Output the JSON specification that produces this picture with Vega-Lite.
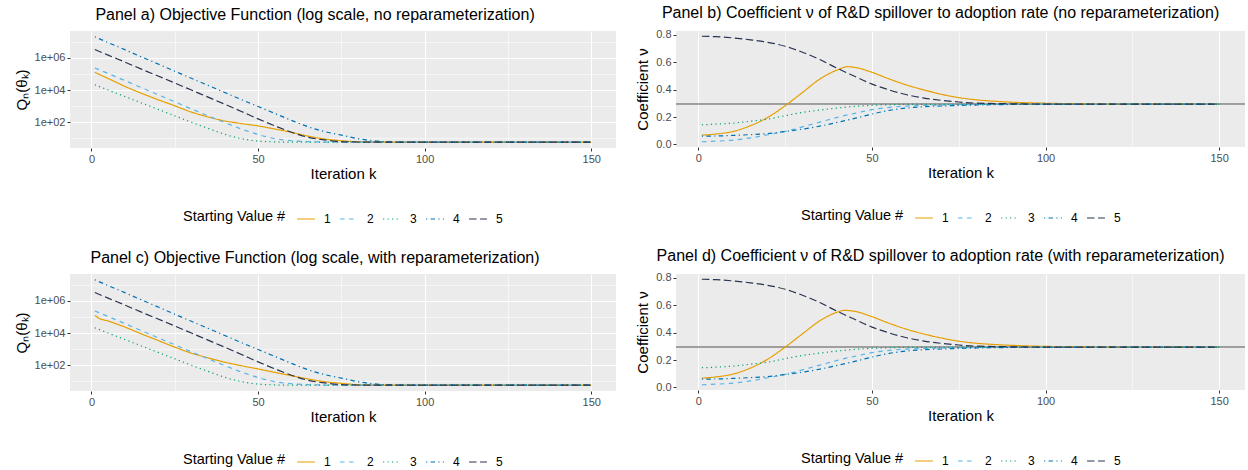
{
  "$schema": "https://vega.github.io/schema/vega-lite/v6.json",
  "background": "white",
  "padding": {"left": 14, "top": 4, "right": 2, "bottom": 0},
  "datasets": {
    "obj": [
      {"p":"a","s":"1","k":1,"q":126000},{"p":"a","s":"1","k":5,"q":52500},{"p":"a","s":"1","k":10,"q":17000},{"p":"a","s":"1","k":15,"q":6310},{"p":"a","s":"1","k":20,"q":2510},{"p":"a","s":"1","k":25,"q":1050},{"p":"a","s":"1","k":30,"q":427},{"p":"a","s":"1","k":35,"q":214},{"p":"a","s":"1","k":40,"q":120},{"p":"a","s":"1","k":45,"q":83.2},{"p":"a","s":"1","k":50,"q":58.9},{"p":"a","s":"1","k":55,"q":38},{"p":"a","s":"1","k":60,"q":23.7},{"p":"a","s":"1","k":65,"q":13.8},{"p":"a","s":"1","k":70,"q":9.12},{"p":"a","s":"1","k":75,"q":7.08},{"p":"a","s":"1","k":80,"q":6.17},{"p":"a","s":"1","k":85,"q":5.89},{"p":"a","s":"1","k":90,"q":5.75},{"p":"a","s":"1","k":100,"q":5.75},{"p":"a","s":"1","k":125,"q":5.75},{"p":"a","s":"1","k":150,"q":5.75},
      {"p":"c","s":"1","k":1,"q":126000},{"p":"c","s":"1","k":2,"q":89100},{"p":"c","s":"1","k":5,"q":56200},{"p":"c","s":"1","k":10,"q":23700},{"p":"c","s":"1","k":15,"q":8910},{"p":"c","s":"1","k":20,"q":3470},{"p":"c","s":"1","k":25,"q":1330},{"p":"c","s":"1","k":30,"q":562},{"p":"c","s":"1","k":35,"q":288},{"p":"c","s":"1","k":40,"q":155},{"p":"c","s":"1","k":45,"q":93.3},{"p":"c","s":"1","k":50,"q":58.9},{"p":"c","s":"1","k":55,"q":36.3},{"p":"c","s":"1","k":60,"q":22.4},{"p":"c","s":"1","k":65,"q":14.1},{"p":"c","s":"1","k":70,"q":9.55},{"p":"c","s":"1","k":75,"q":7.5},{"p":"c","s":"1","k":80,"q":6.17},{"p":"c","s":"1","k":85,"q":5.89},{"p":"c","s":"1","k":90,"q":5.75},{"p":"c","s":"1","k":100,"q":5.75},{"p":"c","s":"1","k":125,"q":5.75},{"p":"c","s":"1","k":150,"q":5.75},
      {"p":"ac","s":"2","k":1,"q":237000},{"p":"ac","s":"2","k":5,"q":107000},{"p":"ac","s":"2","k":10,"q":38900},{"p":"ac","s":"2","k":15,"q":14100},{"p":"ac","s":"2","k":20,"q":5130},{"p":"ac","s":"2","k":25,"q":1860},{"p":"ac","s":"2","k":30,"q":676},{"p":"ac","s":"2","k":35,"q":251},{"p":"ac","s":"2","k":40,"q":95.5},{"p":"ac","s":"2","k":45,"q":38},{"p":"ac","s":"2","k":50,"q":17.4},{"p":"ac","s":"2","k":55,"q":9.55},{"p":"ac","s":"2","k":60,"q":7.08},{"p":"ac","s":"2","k":65,"q":6.17},{"p":"ac","s":"2","k":70,"q":5.89},{"p":"ac","s":"2","k":75,"q":5.75},{"p":"ac","s":"2","k":100,"q":5.75},{"p":"ac","s":"2","k":125,"q":5.75},{"p":"ac","s":"2","k":150,"q":5.75},
      {"p":"ac","s":"3","k":1,"q":21400},{"p":"ac","s":"3","k":5,"q":10000},{"p":"ac","s":"3","k":10,"q":3980},{"p":"ac","s":"3","k":15,"q":1580},{"p":"ac","s":"3","k":20,"q":631},{"p":"ac","s":"3","k":25,"q":251},{"p":"ac","s":"3","k":30,"q":100},{"p":"ac","s":"3","k":35,"q":41.7},{"p":"ac","s":"3","k":40,"q":17.8},{"p":"ac","s":"3","k":45,"q":9.55},{"p":"ac","s":"3","k":50,"q":6.76},{"p":"ac","s":"3","k":55,"q":6.03},{"p":"ac","s":"3","k":60,"q":5.75},{"p":"ac","s":"3","k":100,"q":5.75},{"p":"ac","s":"3","k":125,"q":5.75},{"p":"ac","s":"3","k":150,"q":5.75},
      {"p":"ac","s":"4","k":1,"q":20400000},{"p":"ac","s":"4","k":5,"q":8910000},{"p":"ac","s":"4","k":10,"q":3240000},{"p":"ac","s":"4","k":15,"q":1150000},{"p":"ac","s":"4","k":20,"q":417000},{"p":"ac","s":"4","k":25,"q":148000},{"p":"ac","s":"4","k":30,"q":53700},{"p":"ac","s":"4","k":35,"q":19500},{"p":"ac","s":"4","k":40,"q":7080},{"p":"ac","s":"4","k":45,"q":2570},{"p":"ac","s":"4","k":50,"q":955},{"p":"ac","s":"4","k":55,"q":355},{"p":"ac","s":"4","k":60,"q":132},{"p":"ac","s":"4","k":65,"q":52.5},{"p":"ac","s":"4","k":70,"q":26.3},{"p":"ac","s":"4","k":75,"q":15.8},{"p":"ac","s":"4","k":80,"q":9.55},{"p":"ac","s":"4","k":85,"q":6.92},{"p":"ac","s":"4","k":90,"q":6.03},{"p":"ac","s":"4","k":95,"q":5.75},{"p":"ac","s":"4","k":100,"q":5.75},{"p":"ac","s":"4","k":125,"q":5.75},{"p":"ac","s":"4","k":150,"q":5.75},
      {"p":"ac","s":"5","k":1,"q":3310000},{"p":"ac","s":"5","k":5,"q":1480000},{"p":"ac","s":"5","k":10,"q":550000},{"p":"ac","s":"5","k":15,"q":200000},{"p":"ac","s":"5","k":20,"q":74100},{"p":"ac","s":"5","k":25,"q":27500},{"p":"ac","s":"5","k":30,"q":10000},{"p":"ac","s":"5","k":35,"q":3630},{"p":"ac","s":"5","k":40,"q":1320},{"p":"ac","s":"5","k":45,"q":468},{"p":"ac","s":"5","k":50,"q":162},{"p":"ac","s":"5","k":55,"q":60.3},{"p":"ac","s":"5","k":60,"q":24},{"p":"ac","s":"5","k":65,"q":11.7},{"p":"ac","s":"5","k":70,"q":7.94},{"p":"ac","s":"5","k":75,"q":6.31},{"p":"ac","s":"5","k":80,"q":5.89},{"p":"ac","s":"5","k":85,"q":5.75},{"p":"ac","s":"5","k":100,"q":5.75},{"p":"ac","s":"5","k":125,"q":5.75},{"p":"ac","s":"5","k":150,"q":5.75}
    ],
    "coef": [
      {"p":"b","s":"1","k":1,"v":0.068},{"p":"b","s":"1","k":5,"v":0.076},{"p":"b","s":"1","k":10,"v":0.095},{"p":"b","s":"1","k":15,"v":0.137},{"p":"b","s":"1","k":20,"v":0.198},{"p":"b","s":"1","k":25,"v":0.283},{"p":"b","s":"1","k":30,"v":0.38},{"p":"b","s":"1","k":35,"v":0.478},{"p":"b","s":"1","k":40,"v":0.544},{"p":"b","s":"1","k":43,"v":0.568},{"p":"b","s":"1","k":45,"v":0.563},{"p":"b","s":"1","k":50,"v":0.527},{"p":"b","s":"1","k":55,"v":0.478},{"p":"b","s":"1","k":60,"v":0.434},{"p":"b","s":"1","k":65,"v":0.398},{"p":"b","s":"1","k":70,"v":0.366},{"p":"b","s":"1","k":75,"v":0.342},{"p":"b","s":"1","k":80,"v":0.326},{"p":"b","s":"1","k":85,"v":0.316},{"p":"b","s":"1","k":90,"v":0.309},{"p":"b","s":"1","k":95,"v":0.304},{"p":"b","s":"1","k":100,"v":0.301},{"p":"b","s":"1","k":110,"v":0.297},{"p":"b","s":"1","k":120,"v":0.295},{"p":"b","s":"1","k":150,"v":0.294},
      {"p":"d","s":"1","k":1,"v":0.068},{"p":"d","s":"1","k":5,"v":0.077},{"p":"d","s":"1","k":10,"v":0.098},{"p":"d","s":"1","k":15,"v":0.142},{"p":"d","s":"1","k":20,"v":0.207},{"p":"d","s":"1","k":25,"v":0.295},{"p":"d","s":"1","k":30,"v":0.392},{"p":"d","s":"1","k":35,"v":0.487},{"p":"d","s":"1","k":40,"v":0.55},{"p":"d","s":"1","k":42,"v":0.563},{"p":"d","s":"1","k":45,"v":0.556},{"p":"d","s":"1","k":50,"v":0.517},{"p":"d","s":"1","k":55,"v":0.468},{"p":"d","s":"1","k":60,"v":0.425},{"p":"d","s":"1","k":65,"v":0.39},{"p":"d","s":"1","k":70,"v":0.361},{"p":"d","s":"1","k":75,"v":0.338},{"p":"d","s":"1","k":80,"v":0.323},{"p":"d","s":"1","k":85,"v":0.314},{"p":"d","s":"1","k":90,"v":0.308},{"p":"d","s":"1","k":95,"v":0.303},{"p":"d","s":"1","k":100,"v":0.3},{"p":"d","s":"1","k":110,"v":0.297},{"p":"d","s":"1","k":120,"v":0.295},{"p":"d","s":"1","k":150,"v":0.294},
      {"p":"bd","s":"2","k":1,"v":0.02},{"p":"bd","s":"2","k":5,"v":0.024},{"p":"bd","s":"2","k":10,"v":0.032},{"p":"bd","s":"2","k":15,"v":0.048},{"p":"bd","s":"2","k":20,"v":0.071},{"p":"bd","s":"2","k":25,"v":0.095},{"p":"bd","s":"2","k":30,"v":0.129},{"p":"bd","s":"2","k":35,"v":0.163},{"p":"bd","s":"2","k":40,"v":0.198},{"p":"bd","s":"2","k":45,"v":0.227},{"p":"bd","s":"2","k":50,"v":0.254},{"p":"bd","s":"2","k":55,"v":0.271},{"p":"bd","s":"2","k":60,"v":0.28},{"p":"bd","s":"2","k":65,"v":0.285},{"p":"bd","s":"2","k":70,"v":0.288},{"p":"bd","s":"2","k":80,"v":0.292},{"p":"bd","s":"2","k":90,"v":0.294},{"p":"bd","s":"2","k":150,"v":0.294},
      {"p":"bd","s":"3","k":1,"v":0.144},{"p":"bd","s":"3","k":5,"v":0.148},{"p":"bd","s":"3","k":10,"v":0.156},{"p":"bd","s":"3","k":15,"v":0.17},{"p":"bd","s":"3","k":20,"v":0.185},{"p":"bd","s":"3","k":25,"v":0.21},{"p":"bd","s":"3","k":30,"v":0.234},{"p":"bd","s":"3","k":35,"v":0.251},{"p":"bd","s":"3","k":40,"v":0.266},{"p":"bd","s":"3","k":45,"v":0.278},{"p":"bd","s":"3","k":50,"v":0.286},{"p":"bd","s":"3","k":55,"v":0.29},{"p":"bd","s":"3","k":60,"v":0.293},{"p":"bd","s":"3","k":150,"v":0.294},
      {"p":"bd","s":"4","k":1,"v":0.061},{"p":"bd","s":"4","k":5,"v":0.062},{"p":"bd","s":"4","k":10,"v":0.066},{"p":"bd","s":"4","k":15,"v":0.072},{"p":"bd","s":"4","k":20,"v":0.08},{"p":"bd","s":"4","k":25,"v":0.095},{"p":"bd","s":"4","k":30,"v":0.112},{"p":"bd","s":"4","k":35,"v":0.134},{"p":"bd","s":"4","k":40,"v":0.161},{"p":"bd","s":"4","k":45,"v":0.19},{"p":"bd","s":"4","k":50,"v":0.222},{"p":"bd","s":"4","k":55,"v":0.249},{"p":"bd","s":"4","k":60,"v":0.266},{"p":"bd","s":"4","k":65,"v":0.276},{"p":"bd","s":"4","k":70,"v":0.281},{"p":"bd","s":"4","k":80,"v":0.288},{"p":"bd","s":"4","k":90,"v":0.292},{"p":"bd","s":"4","k":100,"v":0.294},{"p":"bd","s":"4","k":150,"v":0.294},
      {"p":"bd","s":"5","k":1,"v":0.79},{"p":"bd","s":"5","k":5,"v":0.787},{"p":"bd","s":"5","k":10,"v":0.778},{"p":"bd","s":"5","k":15,"v":0.764},{"p":"bd","s":"5","k":20,"v":0.746},{"p":"bd","s":"5","k":25,"v":0.717},{"p":"bd","s":"5","k":30,"v":0.673},{"p":"bd","s":"5","k":35,"v":0.62},{"p":"bd","s":"5","k":40,"v":0.556},{"p":"bd","s":"5","k":45,"v":0.498},{"p":"bd","s":"5","k":50,"v":0.441},{"p":"bd","s":"5","k":55,"v":0.398},{"p":"bd","s":"5","k":60,"v":0.363},{"p":"bd","s":"5","k":65,"v":0.339},{"p":"bd","s":"5","k":70,"v":0.322},{"p":"bd","s":"5","k":75,"v":0.31},{"p":"bd","s":"5","k":80,"v":0.302},{"p":"bd","s":"5","k":90,"v":0.297},{"p":"bd","s":"5","k":100,"v":0.295},{"p":"bd","s":"5","k":150,"v":0.294}
    ]
  },
  "config": {
    "font": "Liberation Sans",
    "view": {"fill": "#EBEBEB", "stroke": null},
    "axis": {"domain": false, "gridColor": "#FFFFFF", "tickColor": "#333333", "tickSize": 3, "labelColor": "#4D4D4D", "labelFontSize": 11, "labelPadding": 2, "titleFontSize": 15, "titleFontWeight": "normal", "titleColor": "#000000"},
    "axisX": {"titlePadding": 2},
    "axisY": {"titlePadding": 5},
    "title": {"fontSize": 16, "fontWeight": "normal", "anchor": "middle", "frame": "bounds", "offset": 8, "color": "#000000"},
    "legend": {"orient": "bottom", "direction": "horizontal", "titleOrient": "left", "titleFontSize": 14.5, "titleFontWeight": "normal", "titleColor": "#000000", "labelFontSize": 12, "labelColor": "#000000", "symbolType": "stroke", "symbolSize": 320, "symbolStrokeWidth": 1.3, "columnPadding": 6, "labelOffset": 8, "offset": 28, "titlePadding": 10, "layout": {"bottom": {"anchor": "middle"}}},
    "line": {"strokeWidth": 1.2, "interpolate": "monotone"}
  },
  "spacing": 22,
  "resolve": {"legend": {"color": "independent", "strokeDash": "independent"}},
  "vconcat": [
    {
      "spacing": 19,
      "resolve": {"legend": {"color": "independent", "strokeDash": "independent"}},
      "hconcat": [
        {
          "title": "Panel a) Objective Function (log scale, no reparameterization)",
          "width": 546, "height": 117,
          "data": {"name": "obj"},
          "transform": [{"filter": "datum.p == 'a' || datum.p == 'ac'"}],
          "mark": {"type": "line"},
          "encoding": {
            "x": {"field": "k", "type": "quantitative", "title": "Iteration k", "scale": {"domain": [-6.45, 157.45], "nice": false, "zero": false}, "axis": {"values": [0, 25, 50, 75, 100, 125, 150], "labelOverlap": false, "labelExpr": "datum.value % 50 === 0 ? datum.label : ''", "gridWidth": {"condition": {"test": "datum.value % 50 === 0", "value": 1.1}, "value": 0.55}, "tickSize": {"condition": {"test": "datum.value % 50 === 0", "value": 3}, "value": 0}}},
            "y": {"field": "q", "type": "quantitative", "title": "Qₙ(θₖ)", "scale": {"type": "log", "domain": [2.51, 46800000], "nice": false}, "axis": {"values": [10, 100, 1000, 10000, 100000, 1000000, 10000000], "labelOverlap": false, "labelExpr": "datum.value == 100 ? '1e+02' : datum.value == 10000 ? '1e+04' : datum.value == 1000000 ? '1e+06' : ''", "gridWidth": {"condition": {"test": "datum.value == 100 || datum.value == 10000 || datum.value == 1000000", "value": 1.1}, "value": 0.55}, "tickSize": {"condition": {"test": "datum.value == 100 || datum.value == 10000 || datum.value == 1000000", "value": 3}, "value": 0}}},
            "color": {"field": "s", "type": "nominal", "title": "Starting Value #", "scale": {"domain": ["1", "2", "3", "4", "5"], "range": ["#E69F00", "#56B4E9", "#009E73", "#0072B2", "#283350"]}},
            "strokeDash": {"field": "s", "type": "nominal", "title": "Starting Value #", "scale": {"domain": ["1", "2", "3", "4", "5"], "range": [[1, 0], [4.5, 4.5], [1.2, 3.3], [1.2, 3.3, 4.5, 3.3], [7.5, 3.5]]}}
          }
        },
        {
          "title": "Panel b) Coefficient ν of R&D spillover to adoption rate (no reparameterization)",
          "width": 569, "height": 116,
          "data": {"name": "coef"},
          "transform": [{"filter": "datum.p == 'b' || datum.p == 'bd'"}],
          "layer": [
            {
              "mark": {"type": "rule", "strokeWidth": 0.8},
              "encoding": {"y": {"datum": 0.293, "type": "quantitative", "title": "Coefficient ν", "scale": {"domain": [-0.0185, 0.8285], "nice": false, "zero": false}, "axis": {"values": [0, 0.1, 0.2, 0.3, 0.4, 0.5, 0.6, 0.7, 0.8], "labelOverlap": false, "labelExpr": "round(datum.value * 10) % 2 == 0 ? format(datum.value, '.1f') : ''", "gridWidth": {"condition": {"test": "round(datum.value * 10) % 2 == 0", "value": 1.1}, "value": 0.55}, "tickSize": {"condition": {"test": "round(datum.value * 10) % 2 == 0", "value": 3}, "value": 0}}}, "color": {"value": "#A0A0A0"}}
            },
            {
              "mark": {"type": "line"},
              "encoding": {
                "x": {"field": "k", "type": "quantitative", "title": "Iteration k", "scale": {"domain": [-6.45, 157.45], "nice": false, "zero": false}, "axis": {"values": [0, 25, 50, 75, 100, 125, 150], "labelOverlap": false, "labelExpr": "datum.value % 50 === 0 ? datum.label : ''", "gridWidth": {"condition": {"test": "datum.value % 50 === 0", "value": 1.1}, "value": 0.55}, "tickSize": {"condition": {"test": "datum.value % 50 === 0", "value": 3}, "value": 0}}},
                "y": {"field": "v", "type": "quantitative", "title": "Coefficient ν", "axis": {"values": [0, 0.1, 0.2, 0.3, 0.4, 0.5, 0.6, 0.7, 0.8], "labelOverlap": false, "labelExpr": "round(datum.value * 10) % 2 == 0 ? format(datum.value, '.1f') : ''", "gridWidth": {"condition": {"test": "round(datum.value * 10) % 2 == 0", "value": 1.1}, "value": 0.55}, "tickSize": {"condition": {"test": "round(datum.value * 10) % 2 == 0", "value": 3}, "value": 0}}},
                "color": {"field": "s", "type": "nominal", "title": "Starting Value #", "scale": {"domain": ["1", "2", "3", "4", "5"], "range": ["#E69F00", "#56B4E9", "#009E73", "#0072B2", "#283350"]}},
                "strokeDash": {"field": "s", "type": "nominal", "title": "Starting Value #", "scale": {"domain": ["1", "2", "3", "4", "5"], "range": [[1, 0], [4.5, 4.5], [1.2, 3.3], [1.2, 3.3, 4.5, 3.3], [7.5, 3.5]]}}
              }
            }
          ]
        }
      ]
    },
    {
      "spacing": 19,
      "resolve": {"legend": {"color": "independent", "strokeDash": "independent"}},
      "hconcat": [
        {
          "title": "Panel c) Objective Function (log scale, with reparameterization)",
          "width": 546, "height": 117,
          "data": {"name": "obj"},
          "transform": [{"filter": "datum.p == 'c' || datum.p == 'ac'"}],
          "mark": {"type": "line"},
          "encoding": {
            "x": {"field": "k", "type": "quantitative", "title": "Iteration k", "scale": {"domain": [-6.45, 157.45], "nice": false, "zero": false}, "axis": {"values": [0, 25, 50, 75, 100, 125, 150], "labelOverlap": false, "labelExpr": "datum.value % 50 === 0 ? datum.label : ''", "gridWidth": {"condition": {"test": "datum.value % 50 === 0", "value": 1.1}, "value": 0.55}, "tickSize": {"condition": {"test": "datum.value % 50 === 0", "value": 3}, "value": 0}}},
            "y": {"field": "q", "type": "quantitative", "title": "Qₙ(θₖ)", "scale": {"type": "log", "domain": [2.51, 46800000], "nice": false}, "axis": {"values": [10, 100, 1000, 10000, 100000, 1000000, 10000000], "labelOverlap": false, "labelExpr": "datum.value == 100 ? '1e+02' : datum.value == 10000 ? '1e+04' : datum.value == 1000000 ? '1e+06' : ''", "gridWidth": {"condition": {"test": "datum.value == 100 || datum.value == 10000 || datum.value == 1000000", "value": 1.1}, "value": 0.55}, "tickSize": {"condition": {"test": "datum.value == 100 || datum.value == 10000 || datum.value == 1000000", "value": 3}, "value": 0}}},
            "color": {"field": "s", "type": "nominal", "title": "Starting Value #", "scale": {"domain": ["1", "2", "3", "4", "5"], "range": ["#E69F00", "#56B4E9", "#009E73", "#0072B2", "#283350"]}},
            "strokeDash": {"field": "s", "type": "nominal", "title": "Starting Value #", "scale": {"domain": ["1", "2", "3", "4", "5"], "range": [[1, 0], [4.5, 4.5], [1.2, 3.3], [1.2, 3.3, 4.5, 3.3], [7.5, 3.5]]}}
          }
        },
        {
          "title": "Panel d) Coefficient ν of R&D spillover to adoption rate (with reparameterization)",
          "width": 569, "height": 116,
          "data": {"name": "coef"},
          "transform": [{"filter": "datum.p == 'd' || datum.p == 'bd'"}],
          "layer": [
            {
              "mark": {"type": "rule", "strokeWidth": 0.8},
              "encoding": {"y": {"datum": 0.293, "type": "quantitative", "title": "Coefficient ν", "scale": {"domain": [-0.0185, 0.8285], "nice": false, "zero": false}, "axis": {"values": [0, 0.1, 0.2, 0.3, 0.4, 0.5, 0.6, 0.7, 0.8], "labelOverlap": false, "labelExpr": "round(datum.value * 10) % 2 == 0 ? format(datum.value, '.1f') : ''", "gridWidth": {"condition": {"test": "round(datum.value * 10) % 2 == 0", "value": 1.1}, "value": 0.55}, "tickSize": {"condition": {"test": "round(datum.value * 10) % 2 == 0", "value": 3}, "value": 0}}}, "color": {"value": "#A0A0A0"}}
            },
            {
              "mark": {"type": "line"},
              "encoding": {
                "x": {"field": "k", "type": "quantitative", "title": "Iteration k", "scale": {"domain": [-6.45, 157.45], "nice": false, "zero": false}, "axis": {"values": [0, 25, 50, 75, 100, 125, 150], "labelOverlap": false, "labelExpr": "datum.value % 50 === 0 ? datum.label : ''", "gridWidth": {"condition": {"test": "datum.value % 50 === 0", "value": 1.1}, "value": 0.55}, "tickSize": {"condition": {"test": "datum.value % 50 === 0", "value": 3}, "value": 0}}},
                "y": {"field": "v", "type": "quantitative", "title": "Coefficient ν", "axis": {"values": [0, 0.1, 0.2, 0.3, 0.4, 0.5, 0.6, 0.7, 0.8], "labelOverlap": false, "labelExpr": "round(datum.value * 10) % 2 == 0 ? format(datum.value, '.1f') : ''", "gridWidth": {"condition": {"test": "round(datum.value * 10) % 2 == 0", "value": 1.1}, "value": 0.55}, "tickSize": {"condition": {"test": "round(datum.value * 10) % 2 == 0", "value": 3}, "value": 0}}},
                "color": {"field": "s", "type": "nominal", "title": "Starting Value #", "scale": {"domain": ["1", "2", "3", "4", "5"], "range": ["#E69F00", "#56B4E9", "#009E73", "#0072B2", "#283350"]}},
                "strokeDash": {"field": "s", "type": "nominal", "title": "Starting Value #", "scale": {"domain": ["1", "2", "3", "4", "5"], "range": [[1, 0], [4.5, 4.5], [1.2, 3.3], [1.2, 3.3, 4.5, 3.3], [7.5, 3.5]]}}
              }
            }
          ]
        }
      ]
    }
  ]
}
